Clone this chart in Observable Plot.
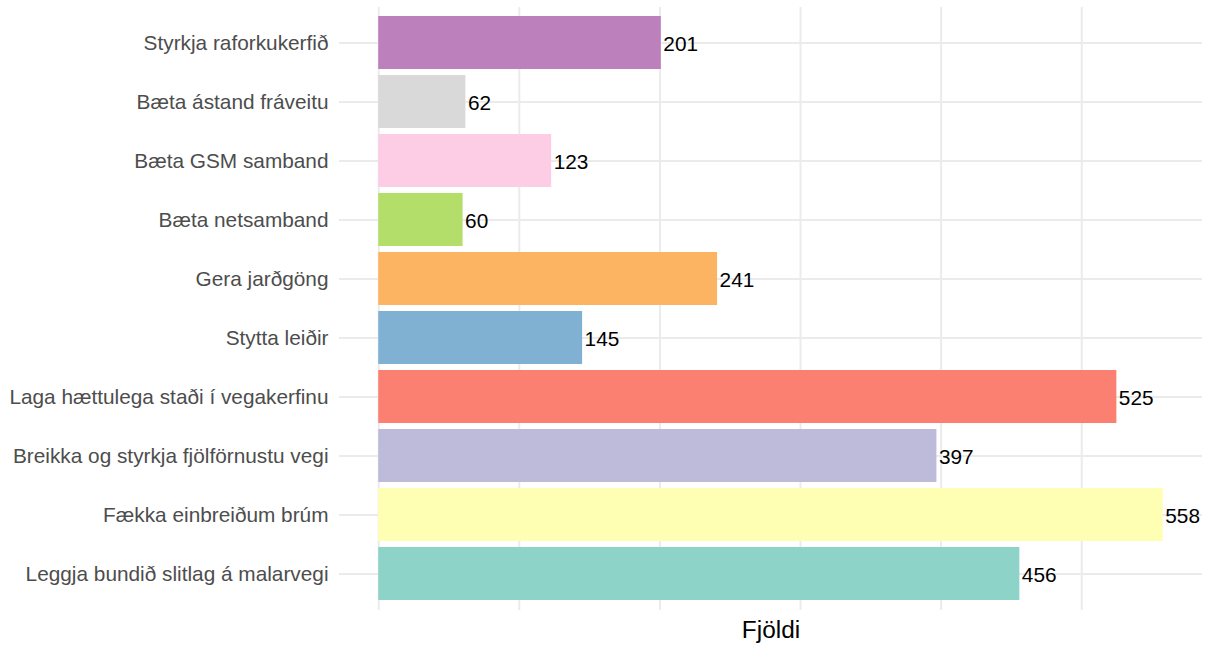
<!DOCTYPE html>
<html>
<head>
<meta charset="utf-8">
<script src="https://cdn.jsdelivr.net/npm/d3@7"></script>
<script src="https://cdn.jsdelivr.net/npm/@observablehq/plot@0.6"></script>
<style>
  html, body { margin: 0; padding: 0; background: #fff; }
  #chart { width: 1210px; height: 649px; }
  #chart svg, #chart svg text { font-family: "Liberation Sans", Arial, Helvetica, sans-serif !important; }
</style>
</head>
<body>
<div id="chart"></div>
<script>
// Categories, top to bottom
const categories = [
  "Styrkja raforkukerfið",
  "Bæta ástand fráveitu",
  "Bæta GSM samband",
  "Bæta netsamband",
  "Gera jarðgöng",
  "Stytta leiðir",
  "Laga hættulega staði í vegakerfinu",
  "Breikka og styrkja fjölförnustu vegi",
  "Fækka einbreiðum brúm",
  "Leggja bundið slitlag á malarvegi"
];
const values = [201, 62, 123, 60, 241, 145, 525, 397, 558, 456];
const palette = ["#BC80BD", "#D9D9D9", "#FCCDE5", "#B3DE69", "#FDB462",
                 "#80B1D3", "#FB8072", "#BEBADA", "#FFFFB3", "#8DD3C7"];
const xGridTicks = [0, 100, 200, 300, 400, 500];
const xTitle = "Fjöldi";

const data = categories.map((c, i) => ({category: c, value: values[i]}));

const chart = Plot.plot({
  width: 1210,
  height: 649,
  marginTop: 7,
  marginBottom: 39,
  marginLeft: 339,
  marginRight: 8,
  style: {fontFamily: "Liberation Sans, Arial, sans-serif", fontSize: "20.8px", background: "#fff"},
  x: {domain: [-27.9, 585.9], axis: null},
  y: {domain: categories, paddingInner: 0.1, paddingOuter: 0.15, label: null},
  color: {domain: categories, range: palette},
  marks: [
    Plot.gridY({stroke: "#ebebeb", strokeOpacity: 1, strokeWidth: 2}),
    Plot.ruleX(xGridTicks, {stroke: "#ebebeb", strokeWidth: 2}),
    Plot.barX(data, {x: "value", y: "category", fill: "category"}),
    Plot.text(data, {x: "value", y: "category", text: d => String(d.value), textAnchor: "start", dx: 2, dy: 1, fill: "black", fontSize: 20.8}),
    Plot.axisY({tickSize: 0, tickPadding: 11, color: "#4d4d4d", label: null, fontSize: 20.8}),
    Plot.text([xTitle], {frameAnchor: "bottom", dy: 27, fontSize: 24.4, fill: "black", textAnchor: "middle"})
  ]
});
document.getElementById("chart").appendChild(chart);
</script>
</body>
</html>
